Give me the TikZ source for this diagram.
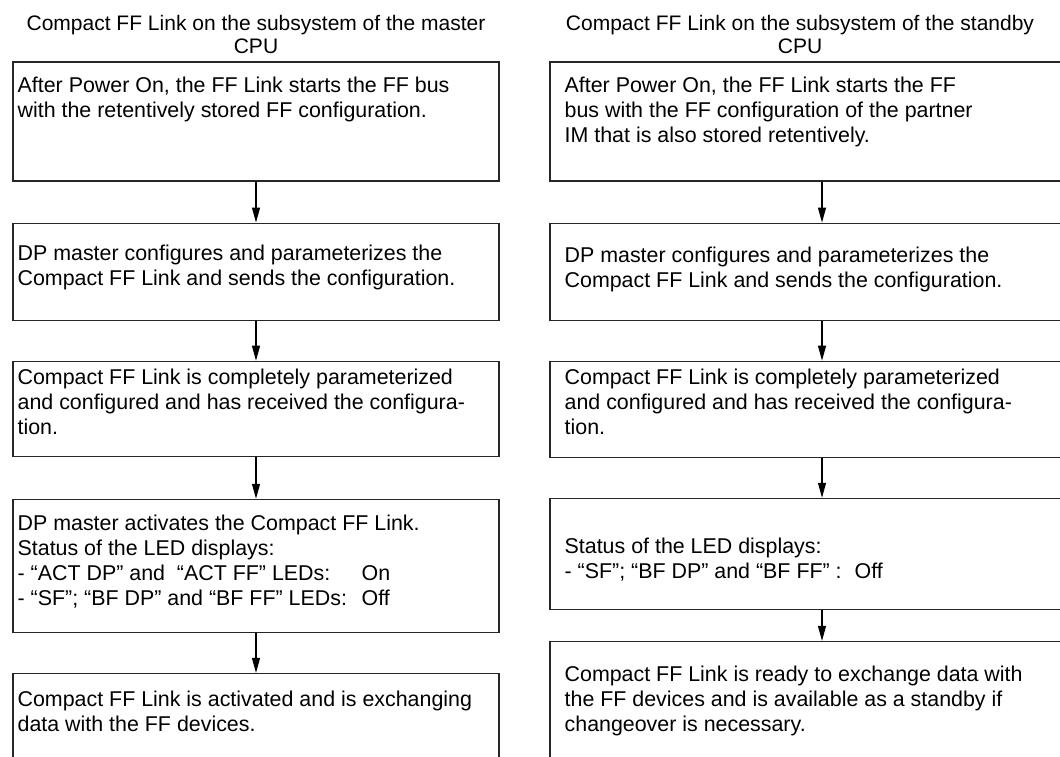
\documentclass[tikz,border=0pt]{standalone}
\usepackage{fontspec}
\setmainfont{Liberation Sans}
\usetikzlibrary{arrows.meta,positioning}

\begin{document}
\begin{tikzpicture}[
  x=1pt, y=-1pt,
  box/.style={draw=black!85, line width=1.1pt, minimum width=486pt, inner sep=0pt},
  wbox/.style={box, minimum width=544pt},
  txt/.style={anchor=north west, align=left, inner sep=0pt, font=\fontsize{21.4}{25}\selectfont},
  title/.style={anchor=north, align=center, inner sep=0pt, font=\fontsize{21}{23}\selectfont},
  arrow/.style={-{Triangle[length=15pt,width=8pt]}, line width=1.1pt}
]
\useasboundingbox (0,0) rectangle (1060,757);
\clip (0,0) rectangle (1060,757);

% master CPU
\node[title] (mtitle) at (256,15) {Compact FF Link on the subsystem of the master\\CPU};
\node[box, minimum height=119pt] (m1) at (256,121.5) {};
\node[box, minimum height=97pt, below=41pt of m1] (m2) {};
\node[box, minimum height=95pt, below=40pt of m2] (m3) {};
\node[box, minimum height=133pt, below=42pt of m3] (m4) {};
\node[box, minimum height=150pt, below=40pt of m4] (m5) {};

\node[txt] (m1t) at ([xshift=5pt,yshift=-15pt]m1.north west)
  {After Power On, the FF Link starts the FF bus\\with the retentively stored FF configuration.};
\node[txt] (m2t) at ([xshift=5pt,yshift=-22pt]m2.north west)
  {DP master configures and parameterizes the\\Compact FF Link and sends the configuration.};
\node[txt] (m3t) at ([xshift=5pt,yshift=-8pt]m3.north west)
  {Compact FF Link is completely parameterized\\and configured and has received the configura-\\tion.};
\node[txt] (m4t) at ([xshift=5pt,yshift=-16pt]m4.north west)
  {DP master activates the Compact FF Link.\\Status of the LED displays:\\
   \makebox[344pt][l]{- “ACT DP” and \ “ACT FF” LEDs:}On\\
   \makebox[344pt][l]{- “SF”; “BF DP” and “BF FF” LEDs:}Off};
\node[txt] (m5t) at ([xshift=5pt,yshift=-18pt]m5.north west)
  {Compact FF Link is activated and is exchanging\\data with the FF devices.};

\draw[arrow] (m1) -- (m2);
\draw[arrow] (m2) -- (m3);
\draw[arrow] (m3) -- (m4);
\draw[arrow] (m4) -- (m5);

% standby CPU
\node[title] (stitle) at (800,15) {Compact FF Link on the subsystem of the standby\\CPU};
\node[wbox, minimum height=119pt] (s1) at (822,121.5) {};
\node[wbox, minimum height=97pt, below=41pt of s1] (s2) {};
\node[wbox, minimum height=96pt, below=40pt of s2] (s3) {};
\node[wbox, minimum height=111pt, below=40pt of s3] (s4) {};
\node[wbox, minimum height=150pt, below=31pt of s4] (s5) {};

\node[txt] (s1t) at ([xshift=15pt,yshift=-15pt]s1.north west)
  {After Power On, the FF Link starts the FF\\bus with the FF configuration of the partner\\IM that is also stored retentively.};
\node[txt] (s2t) at ([xshift=15pt,yshift=-24pt]s2.north west)
  {DP master configures and parameterizes the\\Compact FF Link and sends the configuration.};
\node[txt] (s3t) at ([xshift=15pt,yshift=-8pt]s3.north west)
  {Compact FF Link is completely parameterized\\and configured and has received the configura-\\tion.};
\node[txt] (s4t) at ([xshift=15pt,yshift=-40pt]s4.north west)
  {Status of the LED displays:\\- “SF”; “BF DP” and “BF FF” :\hspace{13pt}Off};
\node[txt] (s5t) at ([xshift=15pt,yshift=-25pt]s5.north west)
  {Compact FF Link is ready to exchange data with\\the FF devices and is available as a standby if\\changeover is necessary.};

\draw[arrow] (s1) -- (s2);
\draw[arrow] (s2) -- (s3);
\draw[arrow] (s3) -- (s4);
\draw[arrow] (s4) -- (s5);
\end{tikzpicture}
\end{document}
